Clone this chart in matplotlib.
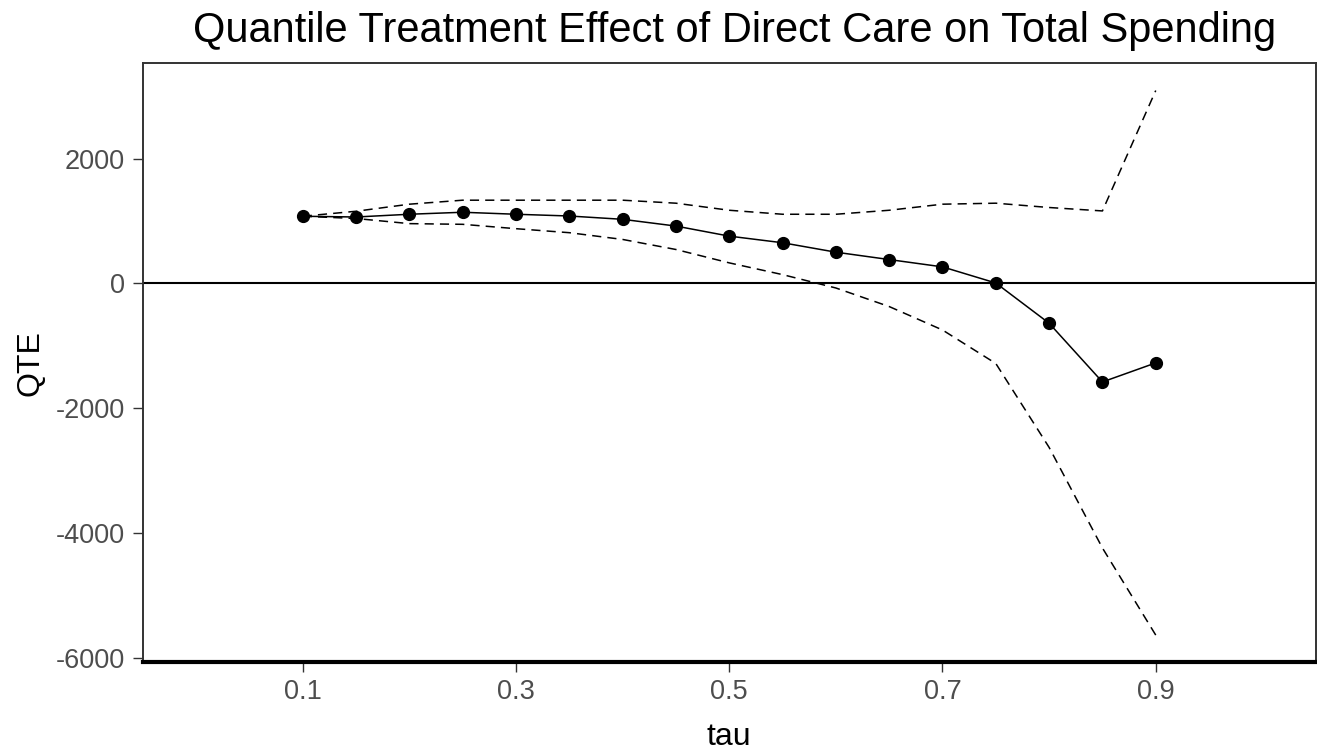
#!/usr/bin/env python3
"""Quantile treatment effect of direct care on total spending."""

import matplotlib

matplotlib.use("Agg")
import matplotlib.pyplot as plt

plt.rcParams["font.family"] = ["Liberation Sans", "DejaVu Sans"]

tau = [0.10, 0.15, 0.20, 0.25, 0.30, 0.35, 0.40, 0.45, 0.50,
       0.55, 0.60, 0.65, 0.70, 0.75, 0.80, 0.85, 0.90]
qte = [1076, 1064, 1108, 1140, 1108, 1080, 1027, 919, 758,
       652, 501, 383, 266, 8, -636, -1576, -1271]
upper = [1076, 1156, 1269, 1333, 1333, 1333, 1333, 1285, 1172,
         1108, 1108, 1172, 1269, 1285, 1216, 1161, 3088]
lower = [1076, 1040, 958, 947, 877, 813, 705, 544, 330,
         142, -72, -369, -744, -1280, -2623, -4233, -5627]

x_ticks = [0.1, 0.3, 0.5, 0.7, 0.9]
y_ticks = [-6000, -4000, -2000, 0, 2000]


def main() -> None:
    fig = plt.figure(figsize=(13.17, 7.51), dpi=100)
    ax = fig.add_axes([0.1084, 0.1181, 0.8906, 0.7976])

    ax.axhline(0, color="black", lw=1.5, zorder=1)
    for band in (upper, lower):
        ax.plot(tau, band, color="black", lw=1.1, dashes=(6, 4), zorder=2)
    ax.plot(tau, qte, color="black", lw=1.1, marker="o", markersize=8.5, zorder=3)

    ax.set_xlim(-0.05, 1.05)
    lo = min(lower)
    hi = max(upper)
    span = hi - lo
    ax.set_ylim(lo - 0.05 * span, hi + 0.05 * span)
    ax.set_xticks(x_ticks)
    ax.set_xticklabels([f"{t:.1f}" for t in x_ticks])
    ax.set_yticks(y_ticks)
    ax.set_yticklabels([str(v) for v in y_ticks])

    ax.tick_params(axis="both", length=7, width=1.0, color="#333333",
                   labelcolor="#4D4D4D", labelsize=19.5)
    ax.tick_params(axis="y", pad=6)
    ax.tick_params(axis="x", pad=5)
    for side in ("left", "top", "right"):
        ax.spines[side].set_color("#333333")
        ax.spines[side].set_linewidth(1.4)
    ax.spines["bottom"].set_color("black")
    ax.spines["bottom"].set_linewidth(3.0)

    fig.text(0.558, 0.944, "Quantile Treatment Effect of Direct Care on Total Spending",
             ha="center", va="baseline", fontsize=30, color="black")
    fig.text(0.5535, 0.008, "tau", ha="center", va="baseline", fontsize=23)
    fig.text(0.023, 0.517, "QTE", ha="center", va="center", rotation=90, fontsize=23)

    fig.savefig("out.png", dpi=100)
    plt.close(fig)


if __name__ == "__main__":
    main()
